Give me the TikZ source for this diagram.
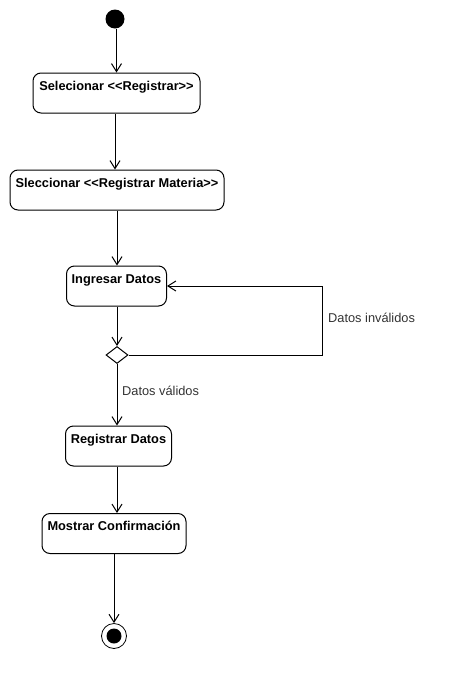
\documentclass[tikz,border=0pt]{standalone}
\usepackage{fontspec}
\setmainfont{Liberation Sans}
\usetikzlibrary{arrows.meta,shapes.geometric}
\definecolor{lbl}{HTML}{333333}
\tikzset{
  act/.style={draw=black, line width=1pt, rounded corners=8pt, fill=white, inner sep=0pt, minimum height=40pt},
  boxtext/.style={anchor=base, yshift=-17.5pt, font=\fontsize{12.8}{14}\selectfont\bfseries, text=black},
  flow/.style={draw=black, line width=1pt, -{Straight Barb[length=8pt,width=10pt,line width=1pt]}},
  guard/.style={font=\fontsize{12.8}{14}\selectfont, text=lbl, inner sep=0pt, anchor=base west},
  decision/.style={diamond, draw=black, line width=1pt, fill=white, inner sep=0pt, minimum width=22pt, minimum height=17pt},
}
\begin{document}
\begin{tikzpicture}[x=1pt,y=-1pt]
\useasboundingbox (0,0) rectangle (455,689);
\node[circle, fill=black, minimum size=19pt, inner sep=0pt] (start) at (115,19) {};
\node[act, minimum width=167pt, label={[boxtext]north:Selecionar <{}<Registrar>{}>}] (b1) at (116.5,93) {};
\node[act, minimum width=214pt, label={[boxtext]north:Sleccionar <{}<Registrar Materia>{}>}] (b2) at (117,190) {};
\node[act, minimum width=100pt, label={[boxtext]north:Ingresar Datos}] (b3) at (116.5,286) {};
\node[decision] (dia) at (117,355) {};
\node[act, minimum width=106pt, label={[boxtext]north:Registrar Datos}] (b4) at (118.5,446) {};
\node[act, minimum width=144pt, label={[boxtext]north:Mostrar Confirmación}] (b5) at (114,533.5) {};
\node[circle, draw=black, line width=0.8pt, fill=white, minimum size=25pt, inner sep=0pt] (end) at (114,636) {};
\node[circle, fill=black, minimum size=15pt, inner sep=0pt] (endin) at (end) {};
\coordinate (lp) at (322,355);
\draw[flow] (start.south -| b1.north) -- (b1.north);
\draw[flow] (b1.south -| 115,0) -- (b2.north -| 115,0);
\draw[flow] (b2.south -| dia) -- (b3.north -| dia);
\draw[flow] (b3.south -| dia) -- (dia.north);
\draw[flow] (dia.east) -- (lp) |- (b3.east);
\draw[flow] (dia.south) -- (b4.north -| dia);
\draw[flow] (b4.south -| dia) -- (b5.north -| dia);
\draw[flow] (b5.south) -- (end.north);
\node[guard] (g1) at (328,322.7) {Datos inválidos};
\node[guard] (g2) at (122,395.7) {Datos válidos};
\end{tikzpicture}
\end{document}
